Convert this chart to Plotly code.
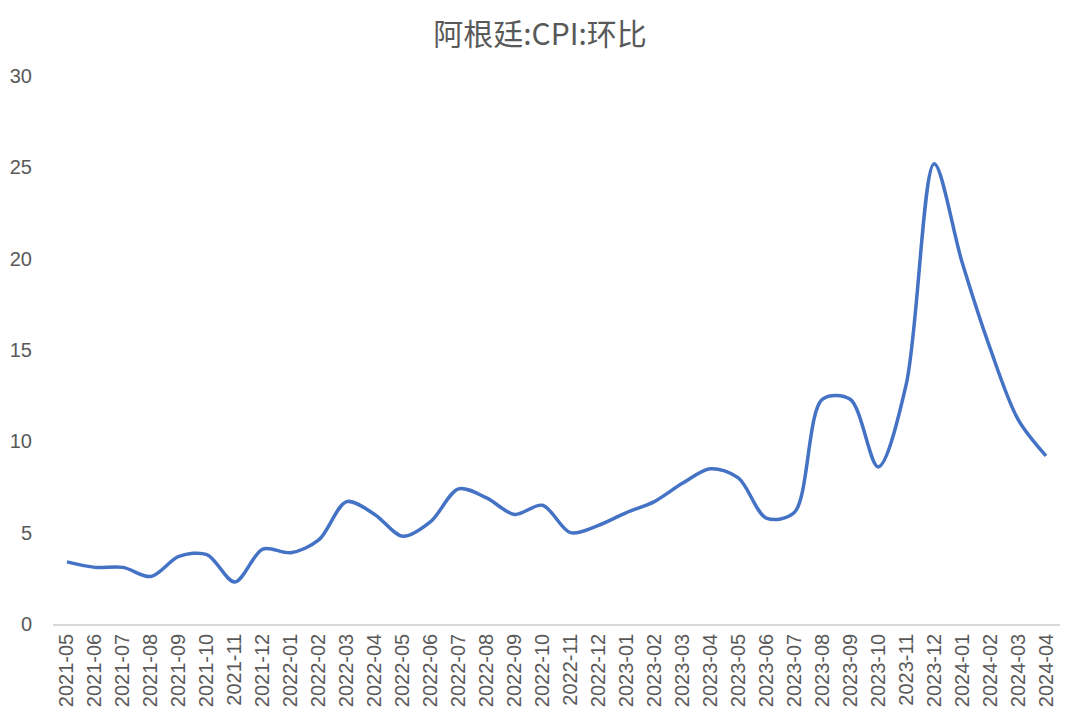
import plotly.graph_objects as go

months = ["2021-05","2021-06","2021-07","2021-08","2021-09","2021-10","2021-11","2021-12",
          "2022-01","2022-02","2022-03","2022-04","2022-05","2022-06","2022-07","2022-08",
          "2022-09","2022-10","2022-11","2022-12","2023-01","2023-02","2023-03","2023-04",
          "2023-05","2023-06","2023-07","2023-08","2023-09","2023-10","2023-11","2023-12",
          "2024-01","2024-02","2024-03","2024-04"]
cpi_mom = [3.4, 3.1, 3.1, 2.6, 3.7, 3.8, 2.3, 4.1,
           3.9, 4.6, 6.7, 6.0, 4.8, 5.6, 7.4, 6.9,
           6.0, 6.5, 5.0, 5.4, 6.1, 6.7, 7.7, 8.5,
           8.0, 5.8, 6.1, 12.3, 12.3, 8.6, 13.1, 25.2,
           19.8, 15.1, 11.2, 9.2]
y_ticks = [0, 5, 10, 15, 20, 25, 30]

fig = go.Figure()
fig.add_trace(go.Scatter(
    x=list(range(len(months))), y=cpi_mom, mode="lines",
    line=dict(color="#4472C4", width=3.5, shape="spline", smoothing=0.9),
    hoverinfo="skip", showlegend=False,
))

num_font = "Liberation Sans, Arial, sans-serif"
fig.update_layout(
    width=1080, height=720,
    paper_bgcolor="white", plot_bgcolor="white",
    margin=dict(l=45, r=28, t=68, b=104),
    title=dict(text="阿根廷:CPI:环比", x=(540 - 8) / 1080, xanchor="center",
               y=1 - 26 / 720, yanchor="middle",
               font=dict(family="Noto Sans CJK SC, sans-serif", size=30, color="#595959")),
    font=dict(family=num_font, color="#595959"),
)
fig.update_xaxes(
    range=[-0.5, len(months) - 0.5],
    tickmode="array", tickvals=list(range(len(months))), ticktext=months,
    tickangle=-90, tickfont=dict(family=num_font, size=20, color="#595959"),
    showgrid=False, zeroline=False, showline=True, linecolor="#D9D9D9", linewidth=1.5,
    ticks="", fixedrange=True, automargin=False,
)
fig.update_yaxes(
    range=[0, 30], tickmode="array", tickvals=y_ticks,
    tickfont=dict(family=num_font, size=20, color="#595959"),
    showgrid=False, zeroline=False, showline=False, ticks="",
    ticklabelstandoff=20, fixedrange=True, automargin=False,
)
fig.write_html("out.html")
